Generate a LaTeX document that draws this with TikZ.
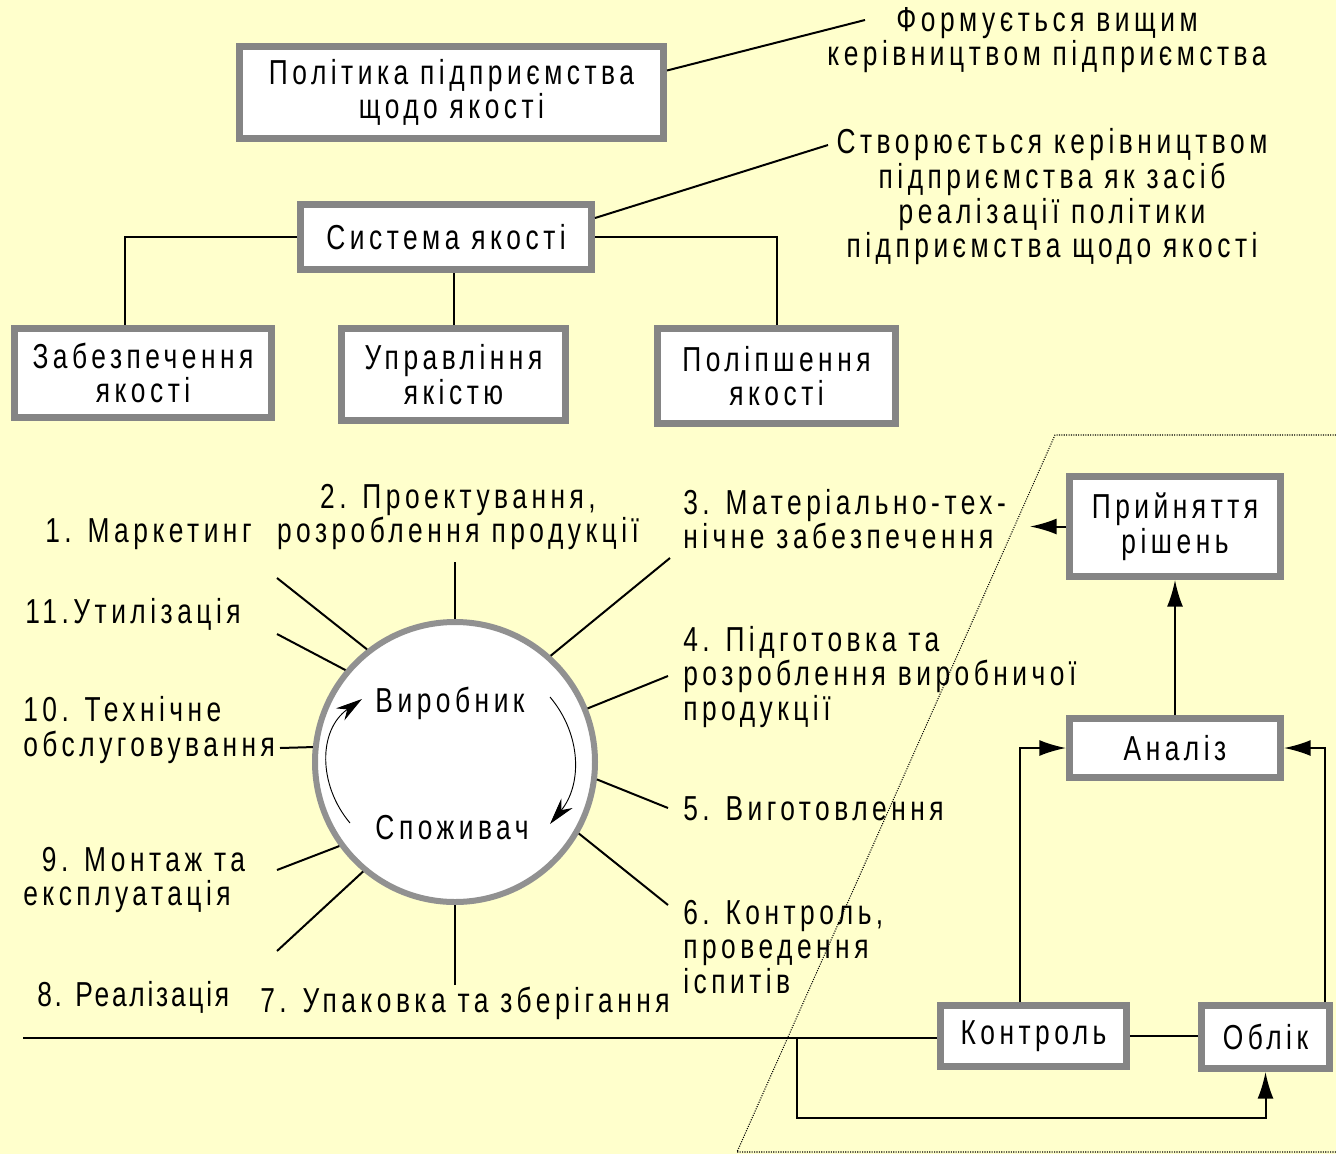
\documentclass[tikz,border=0pt]{standalone}
\usepackage{fontspec}
\setmainfont{Liberation Sans}[FakeStretch=0.76, LetterSpace=13]
\usetikzlibrary{arrows.meta,calc}
\definecolor{bgc}{HTML}{FFFFCC}
\definecolor{brd}{HTML}{858585}
\begin{document}
\begin{tikzpicture}[x=0.75pt,y=-0.75pt,
  font=\fontsize{26}{26}\selectfont,
  box/.style={draw=brd, line width=5.25pt, fill=white, inner sep=0pt, align=center},
  lbl/.style={inner sep=0pt, align=left, anchor=west},
  clbl/.style={inner sep=0pt, align=center},
  conn/.style={line width=1.5pt, black},
  arr/.style={conn, -{Latex[length=20pt,width=12pt]}},
  inarr/.style={line width=0.7pt, -{Stealth[length=20pt,width=11pt]}},
  dotl/.style={line width=0.8pt, dash pattern=on 0.8pt off 1pt}]
\fill[bgc] (0,0) rectangle (1336,1154);
\useasboundingbox (0,0) rectangle (1336,1154);

% top boxes
\node[box, minimum width=318pt, minimum height=69pt] (b1) at (451.5,92.5) {Політика підприємства\\щодо якості};
\node[box, minimum width=218.25pt, minimum height=48.75pt] (b2) at (446,237) {Система якості};
\node[box, minimum width=192.75pt, minimum height=66.75pt] (b3) at (143,373) {Забезпечення\\якості};
\node[box, minimum width=168pt, minimum height=69pt] (b4) at (453.5,374.5) {Управління\\якістю};
\node[box, minimum width=178.5pt, minimum height=71.25pt] (b5) at (776.5,376) {Поліпшення\\якості};

\node[clbl] (t1) at (1047,40) {Формується вищим\\керівництвом підприємства};
\node[clbl] (t2) at (1052,197) {Створюється керівництвом\\підприємства як засіб\\реалізації політики\\підприємства щодо якості};

\coordinate (e1) at (865,20);
\coordinate (e2) at (828,145);
\draw[conn] ($(b1.east)+(0,-22)$) -- (e1);
\draw[conn] ($(b2.east)+(0,-19)$) -- (e2);

\draw[conn] (b2.west) -| ([xshift=-13.5pt]b3.north);
\draw[conn] (b4.north) -- (b4.north |- b2.south);
\draw[conn] (b2.east) -| (b5.north);

% circle
\node[circle, draw=brd!90, line width=4.5pt, fill=white, minimum size=210pt, inner sep=0pt] (c) at (455,762) {};
\node[inner sep=0pt] (vyr) at (450,703) {Виробник};
\node[inner sep=0pt] (spo) at (452,828) {Споживач};
\coordinate (a1s) at (350,823);
\coordinate (a1e) at (362,699);
\coordinate (a2s) at (550,697);
\coordinate (a2e) at (550,824);
\draw[inarr] (a1s) .. controls (318,785) and (318,730) .. (a1e);
\draw[inarr] (a2s) .. controls (582,735) and (582,785) .. (a2e);

% spokes
\coordinate (s1) at (277,578);
\coordinate (s2) at (455,562);
\coordinate (s3) at (670,558);
\coordinate (s11) at (277,634);
\coordinate (s4) at (668,676);
\coordinate (s10) at (280,748);
\coordinate (s5) at (668,808);
\coordinate (s9) at (277,870);
\coordinate (s6) at (668,905);
\coordinate (s8) at (277,951);
\coordinate (s7) at (455,985);
\draw[conn] (s1) -- (c.128);
\draw[conn] (s2) -- (c.90);
\draw[conn] (s3) -- (c.48);
\draw[conn] (s11) -- (c.140);
\draw[conn] (s4) -- (c.22.5);
\draw[conn] (s10) -- (c.174);
\draw[conn] (s5) -- (c.-7.6);
\draw[conn] (s9) -- (c.216);
\draw[conn] (s6) -- (c.-30);
\draw[conn] (s8) -- (c.230);
\draw[conn] (s7) -- (c.270);

% labels
\node[lbl] (l1) at (45,534) {1. Маркетинг};
\node[clbl] (l2) at (458,517) {2. Проектування,\\розроблення продукції};
\node[lbl] (l3) at (683,519) {3. Матеріально-тех-\\нічне забезпечення};
\node[lbl] (l11) at (25,614) {11.Утилізація};
\node[lbl] (l4) at (683,677) {4. Підготовка та\\розроблення виробничої\\продукції};
\node[lbl] (l10) at (23,730) {10. Технічне\\обслуговування};
\node[lbl] (l5) at (683,809) {5. Виготовлення};
\node[lbl] (l9) at (23,880) {\hspace*{14pt}9. Монтаж та\\експлуатація};
\node[lbl] (l6) at (683,947) {6. Контроль,\\проведення\\іспитів};
\node[lbl, font=\fontsize{26}{26}\selectfont\addfontfeatures{LetterSpace=8}] (l8) at (37,997) {8. Реалізація};
\node[lbl] (l7) at (260,1003) {7. Упаковка та зберігання};

% right part
\draw[dotl] (1336,435) -- (1055,435) -- (737,1152) -- (1336,1152);
\node[box, minimum width=158.25pt, minimum height=75pt] (pr) at (1175,526.5) {Прийняття\\рішень};
\node[box, minimum width=158.25pt, minimum height=44.25pt] (an) at (1175,748) {Аналіз};
\node[box, minimum width=139.5pt, minimum height=45.75pt] (ko) at (1033.5,1036) {Контроль};
\node[box, minimum width=96pt, minimum height=47.25pt] (ob) at (1265.5,1037) {Облік};

\coordinate (L) at (23,1038);
\coordinate (br) at (797,1038);
\draw[conn] (L) -- (L -| ko.west);
\draw[arr] (br) -- ++(0,80) -| (ob.south);
\draw[conn] (ko.east) -- (ko.east -| ob.west);
\draw[arr] ([xshift=-10pt]ko.north) |- (an.west);
\draw[arr] ([xshift=44.6pt]ob.north) |- (an.east);
\draw[arr] (an.north) -- (pr.south);
\draw[arr] (pr.west) -- ++(-36,0);
\end{tikzpicture}
\end{document}
